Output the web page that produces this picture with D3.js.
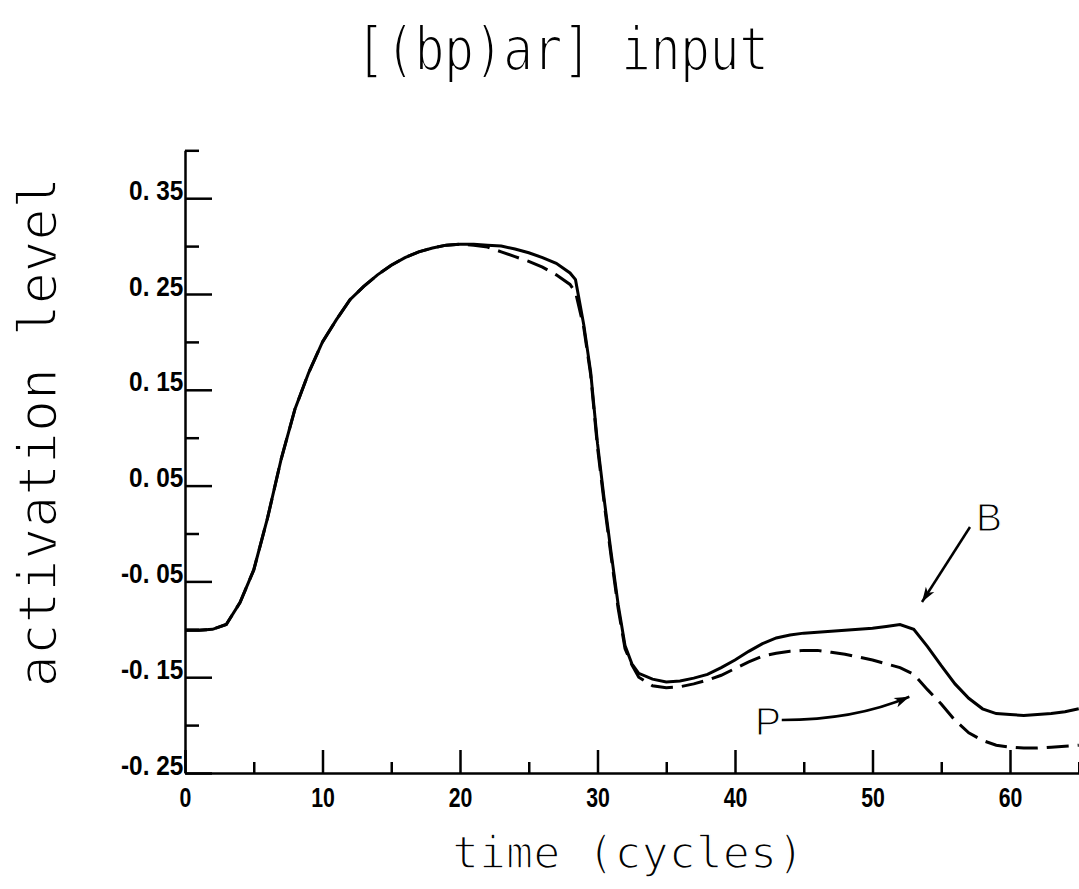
<html>
<head>
  <meta charset="utf-8">
  <title>[(bp)ar] input</title>
  <script src="https://d3js.org/d3.v7.min.js"></script>
  <style>
    body { margin: 0; background: #fff; }
  </style>
</head>
<body>

<script>
// time in cycles, shared by both curves
var time = [0, 1, 2, 3, 4, 5, 6, 7, 8, 9, 10, 11, 12, 13, 14, 15, 16, 17, 18, 19, 20,
	21, 22, 23, 24, 25, 26, 27, 28, 28.4, 29, 29.5, 30, 30.5, 31, 31.5, 32, 32.5, 33, 34, 35,
	36, 37, 38, 39, 40, 41, 42, 43, 44, 45, 46, 47, 48, 49, 50, 51, 52, 53, 54, 55,
	56, 57, 58, 59, 60, 61, 62, 63, 64, 65];

// B (solid)
var bValues = [-0.101, -0.101, -0.100, -0.095, -0.072, -0.038, 0.016, 0.078, 0.130, 0.168, 0.200,
	0.223, 0.244, 0.258, 0.270, 0.280, 0.288, 0.294, 0.298, 0.301, 0.302,
	0.302, 0.301, 0.300, 0.297, 0.293, 0.288, 0.282, 0.272, 0.265, 0.218, 0.169, 0.094, 0.034, -0.021, -0.074, -0.117, -0.136, -0.146, -0.152, -0.155,
	-0.154, -0.151, -0.147, -0.140, -0.132, -0.123, -0.115, -0.109, -0.106, -0.104,
	-0.103, -0.102, -0.101, -0.100, -0.099, -0.097, -0.095, -0.100, -0.118, -0.138,
	-0.157, -0.172, -0.183, -0.188, -0.189, -0.190, -0.189, -0.188, -0.186, -0.183];

// P (dashed)
var pValues = [-0.101, -0.101, -0.100, -0.095, -0.072, -0.038, 0.016, 0.078, 0.130, 0.168, 0.200,
	0.223, 0.244, 0.258, 0.270, 0.280, 0.288, 0.294, 0.298, 0.301, 0.302,
	0.301, 0.299, 0.294, 0.289, 0.284, 0.278, 0.270, 0.260, 0.252, 0.215, 0.166, 0.090, 0.030, -0.025, -0.078, -0.120, -0.137, -0.150, -0.159, -0.161,
	-0.160, -0.157, -0.153, -0.148, -0.141, -0.134, -0.128, -0.125, -0.123, -0.122,
	-0.122, -0.124, -0.126, -0.129, -0.132, -0.136, -0.140, -0.147, -0.163, -0.178,
	-0.195, -0.208, -0.216, -0.221, -0.223, -0.224, -0.224, -0.223, -0.222, -0.221];

// ticks
var xMajor = [0, 10, 20, 30, 40, 50, 60];
var xMinor = [5, 15, 25, 35, 45, 55, 65];
var xTickLabels = ["0", "10", "20", "30", "40", "50", "60"];
var yMajor = [-0.25, -0.15, -0.05, 0.05, 0.15, 0.25, 0.35];
var yMinor = [-0.2, -0.1, 0, 0.1, 0.2, 0.3, 0.4];
var yTickLabels = ["-0. 25", "-0. 15", "-0. 05", "0. 05", "0. 15", "0. 25", "0. 35"];

var width = 1079, height = 889;
var sans = "'Liberation Sans', Arial, sans-serif";
var mono = "'DejaVu Sans Mono', monospace";

var svg = d3.select("body")
	.append("svg")
	.attr("width", width).attr("height", height);

var x = d3.scaleLinear().domain([0, 70]).range([185, 1147.5]);
var y = d3.scaleLinear().domain([-0.25, 0.40]).range([773, 150.3]);

//x axis, ticks point up into the plot
var xAxis = svg.append("g")
	.attr("transform", "translate(0," + y(-0.25) + ")")
	.call(d3.axisBottom(x).tickValues(xMajor).tickSize(-23).tickSizeOuter(0)
		.tickFormat(function(d, i){ return xTickLabels[i]; }));
xAxis.selectAll("text")
	.attr("y", 34).attr("dy", 0)
	.attr("transform", "scale(0.76,1)")
	.attr("fill", "#000")
	.style("font-family", sans)
	.style("font-weight", "bold")
	.style("font-size", "28px");

svg.append("g")
	.attr("transform", "translate(0," + y(-0.25) + ")")
	.call(d3.axisBottom(x).tickValues(xMinor).tickSize(-11).tickSizeOuter(0).tickFormat(""))
	.select(".domain").remove();

//y axis
var yAxis = svg.append("g")
	.attr("transform", "translate(" + x(0) + ",0)")
	.call(d3.axisLeft(y).tickValues(yMajor).tickSize(-27).tickSizeOuter(0)
		.tickFormat(function(d, i){ return yTickLabels[i]; }));
yAxis.selectAll("text")
	.attr("x", -2).attr("y", 1).attr("dy", 0)
	.attr("transform", "scale(0.87,1)")
	.attr("fill", "#000")
	.style("font-family", sans)
	.style("font-weight", "bold")
	.style("font-size", "28px");

svg.append("g")
	.attr("transform", "translate(" + x(0) + ",0)")
	.call(d3.axisLeft(y).tickValues(yMinor).tickSize(-14).tickSizeOuter(0).tickFormat(""))
	.select(".domain").remove();

svg.selectAll(".domain, .tick line")
	.attr("stroke", "#000")
	.attr("stroke-width", 2.5);

//curves
var line = d3.line()
	.x(function(d){ return x(d[0]); })
	.y(function(d){ return y(d[1]); });

svg.append("path")
	.datum(time.map(function(t, i){ return [t, pValues[i]]; }))
	.attr("d", line)
	.attr("fill", "none")
	.attr("stroke", "#000")
	.attr("stroke-width", 3)
	.attr("stroke-dasharray", "22,9");

svg.append("path")
	.datum(time.map(function(t, i){ return [t, bValues[i]]; }))
	.attr("d", line)
	.attr("fill", "none")
	.attr("stroke", "#000")
	.attr("stroke-width", 3);

//arrow heads
svg.append("defs").append("marker")
	.attr("id", "head")
	.attr("viewBox", "-16 -6 18 12")
	.attr("markerWidth", 18).attr("markerHeight", 12)
	.attr("markerUnits", "userSpaceOnUse")
	.attr("orient", "auto")
	.append("path")
	.attr("d", "M0,0 L-15,-5 L-11,0 L-15,5 Z")
	.attr("fill", "#000");

// B arrow
svg.append("path")
	.attr("d", "M" + x(57.09) + "," + y(0.0068) + " L" + x(53.6) + "," + y(-0.0715))
	.attr("stroke", "#000").attr("stroke-width", 2.5).attr("fill", "none")
	.attr("marker-end", "url(#head)");

// P arrow
svg.append("path")
	.attr("d", "M" + x(43.4) + "," + y(-0.1947) + " Q" + x(48.7) + "," + y(-0.1947) + " " + x(52.68) + "," + y(-0.1704))
	.attr("stroke", "#000").attr("stroke-width", 2.5).attr("fill", "none")
	.attr("marker-end", "url(#head)");

// plotter lettering is thin: a white outline eats into the glyphs a little
function thin(sel, w) {
	sel.attr("fill", "#000")
		.attr("stroke", "#fff")
		.attr("stroke-width", w)
		.style("paint-order", "fill");
}

svg.append("text")
	.attr("x", x(57.53)).attr("y", y(0.0026))
	.style("font-family", sans)
	.style("font-size", "39px")
	.text("B")
	.call(thin, 1.2);

svg.append("text")
	.attr("x", x(41.45)).attr("y", y(-0.2103))
	.style("font-family", sans)
	.style("font-size", "39px")
	.text("P")
	.call(thin, 1.2);

//titles
svg.append("text")
	.attr("transform", "translate(562,70) scale(1,1.22)")
	.attr("text-anchor", "middle")
	.style("font-family", mono)
	.style("font-size", "50px")
	.style("letter-spacing", "-0.6px")
	.text("[(bp)ar] input")
	.call(thin, 1.8);

svg.append("text")
	.attr("transform", "translate(628,868)")
	.attr("text-anchor", "middle")
	.style("font-family", mono)
	.style("font-size", "45px")
	.text("time (cycles)")
	.call(thin, 1.6);

svg.append("text")
	.attr("transform", "translate(56,432) rotate(-90)")
	.attr("text-anchor", "middle")
	.style("font-family", mono)
	.style("font-size", "53px")
	.text("activation level")
	.call(thin, 1.8);
</script>

</body>
</html>
